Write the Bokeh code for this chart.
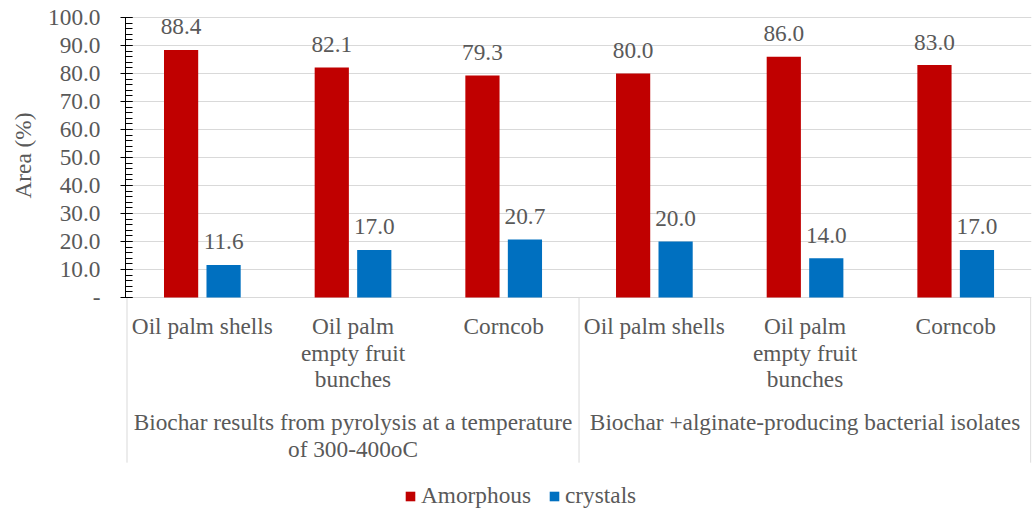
from bokeh.plotting import figure
from bokeh.models import Range1d, FixedTicker, ColumnDataSource, Legend, LegendItem, Title
from bokeh.embed import file_html
from bokeh.resources import INLINE
from bokeh.core.properties import value

# ---- data ----
categories = ["Oil palm shells", "Oil palm\nempty fruit\nbunches", "Corncob",
              "Oil palm shells", "Oil palm\nempty fruit\nbunches", "Corncob"]
groups = ["Biochar results from pyrolysis at a temperature\nof 300-400oC",
          "Biochar +alginate-producing bacterial isolates"]
group_sizes = [3, 3]
series_names = ["Amorphous", "crystals"]
amorphous = [88.4, 82.1, 79.3, 80.0, 86.0, 83.0]
crystals = [11.6, 17.0, 20.7, 20.0, 14.0, 17.0]
y_ticks = [0, 10, 20, 30, 40, 50, 60, 70, 80, 90, 100]
y_tick_labels = ["-", "10.0", "20.0", "30.0", "40.0", "50.0", "60.0", "70.0", "80.0", "90.0", "100.0"]
y_axis_title = "Area (%)"

# ---- style ----
RED = "#C00000"
BLUE = "#0070C0"
TXT = "#595959"
GRID = "#D9D9D9"
FONT = "'Liberation Serif'"
FS = "23.3px"

n = len(categories)
p = figure(width=1032, height=512,
           x_range=Range1d(-0.01, 6.003), y_range=Range1d(-76.8, 102.5),
           x_axis_type=None, output_backend="svg", toolbar_location=None,
           min_border_left=125, min_border_right=1, min_border_top=10, min_border_bottom=0)
p.outline_line_color = None
p.background_fill_color = "white"

# grid
p.ygrid.ticker = FixedTicker(ticks=y_ticks)
p.ygrid.grid_line_color = GRID
p.ygrid.grid_line_width = 1

# y axis
ax = p.yaxis[0]
ax.ticker = FixedTicker(ticks=y_ticks, minor_ticks=list(range(0, 101, 2)))
ax.bounds = (0, 100)
ax.major_label_overrides = {t: lab for t, lab in zip(y_ticks, y_tick_labels)}
ax.axis_line_color = "black"
ax.major_tick_line_color = "black"
ax.minor_tick_line_color = "black"
ax.major_tick_in = 7
ax.major_tick_out = 5
ax.minor_tick_in = 7
ax.minor_tick_out = 0
ax.major_label_standoff = 20
ax.major_label_text_font = FONT
ax.major_label_text_font_size = FS
ax.major_label_text_color = TXT

# y axis title, as a left-side title placed over the 0-100 span
p.add_layout(Title(text=y_axis_title, align="right", offset=102, standoff=15,
                   vertical_align="top", text_font=FONT, text_font_size=FS,
                   text_font_style="normal", text_color=TXT), "left")

# bars
off = 0.141
bw = 0.227
xs = [i + 0.5 for i in range(n)]
src = ColumnDataSource(dict(
    xr=[x - off for x in xs], xb=[x + off for x in xs],
    amo=amorphous, cry=crystals,
    amo_t=["%.1f" % v for v in amorphous], cry_t=["%.1f" % v for v in crystals],
))
r1 = p.vbar(x="xr", top="amo", width=bw, bottom=0, fill_color=RED, line_color=None, source=src)
r2 = p.vbar(x="xb", top="cry", width=bw, bottom=0, fill_color=BLUE, line_color=None, source=src)

for xk, yk, tk in (("xr", "amo", "amo_t"), ("xb", "cry", "cry_t")):
    p.text(x=xk, y=yk, text=tk, source=src, y_offset=-23,
           text_align="center", text_baseline="middle",
           text_font=value(FONT), text_font_size=FS, text_color=TXT)

# category labels (multi-line, below the axis)
cx, cy, ct, co = [], [], [], []
for i, c in enumerate(categories):
    for j, line in enumerate(c.split("\n")):
        cx.append(i + 0.5); cy.append(0); ct.append(line); co.append(29 + 26.5 * j)
p.text(x="x", y="y", text="t", y_offset="o",
       source=ColumnDataSource(dict(x=cx, y=cy, t=ct, o=co)),
       text_align="center", text_baseline="middle",
       text_font=value(FONT), text_font_size=FS, text_color=TXT)

# group labels
gx, gy, gt, go = [], [], [], []
start = 0
bounds = [0]
for g, sz in zip(groups, group_sizes):
    for j, line in enumerate(g.split("\n")):
        gx.append(start + sz / 2); gy.append(0); gt.append(line); go.append(125 + 27 * j)
    start += sz
    bounds.append(start)
p.text(x="x", y="y", text="t", y_offset="o",
       source=ColumnDataSource(dict(x=gx, y=gy, t=gt, o=go)),
       text_align="center", text_baseline="middle",
       text_font=value(FONT), text_font_size=FS, text_color=TXT)

# group separator lines
sep_x = [b if b < n else b - 0.002 for b in bounds]
p.segment(x0=sep_x, x1=sep_x, y0=[0] * len(sep_x), y1=[-59.0] * len(sep_x),
          line_color=GRID, line_width=1)

# legend
legend = Legend(items=[LegendItem(label=series_names[0], renderers=[r1]),
                       LegendItem(label=series_names[1], renderers=[r2])],
                orientation="horizontal", location=(279, 3),
                glyph_width=12, glyph_height=12, label_standoff=5, spacing=17,
                padding=0, margin=0, border_line_color=None, background_fill_alpha=0,
                label_text_font=FONT, label_text_font_size=FS, label_text_color=TXT)
p.add_layout(legend, "center")

open("out.html", "w").write(file_html(p, INLINE))
